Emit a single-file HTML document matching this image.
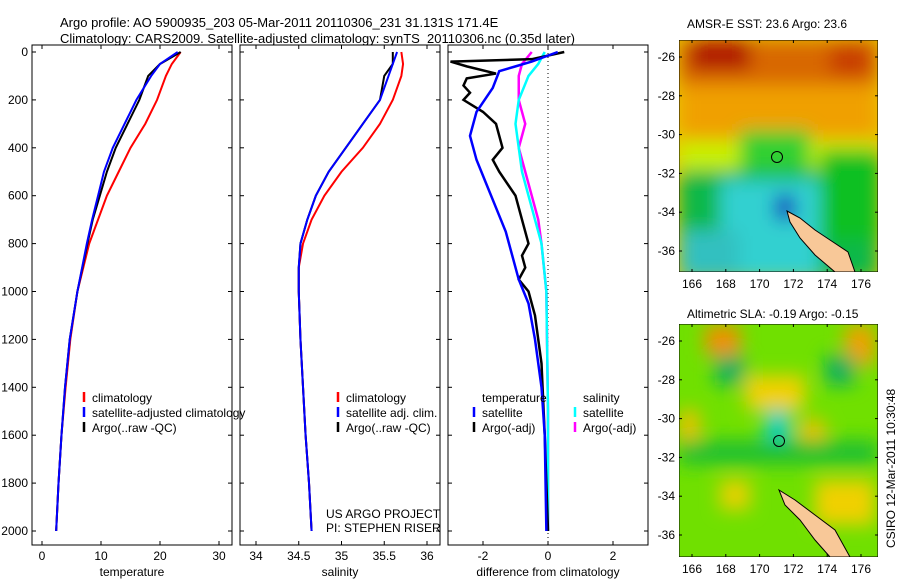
<!DOCTYPE html>
<html><head><meta charset="utf-8"><style>
body{margin:0;background:#fff;font-family:"Liberation Sans",sans-serif;}
svg text{font-family:"Liberation Sans",sans-serif;font-size:12px;fill:#000}
</style></head><body>
<svg id="c" width="900" height="580" xmlns="http://www.w3.org/2000/svg">
<defs>
<filter id="bl" x="-20%" y="-20%" width="140%" height="140%"><feGaussianBlur stdDeviation="9"/></filter>
<clipPath id="cm1"><rect x="679" y="40" width="199" height="232"/></clipPath>
<clipPath id="cm2"><rect x="679" y="324" width="199" height="233"/></clipPath>
</defs>
<text x="60" y="27" font-size="13" style="font-size:13px">Argo profile: AO 5900935_203 05-Mar-2011 20110306_231 31.131S 171.4E</text>
<text x="60" y="43" style="font-size:13px">Climatology: CARS2009. Satellite-adjusted climatology: synTS_20110306.nc (0.35d later)</text>
<g id="plots"></g>
<g clip-path="url(#cm1)">
<rect x="679" y="40" width="199" height="232" fill="#e8c800"/>
<g filter="url(#bl)">
<rect x="679" y="40" width="199" height="45" fill="#d86800"/>
<rect x="690" y="40" width="60" height="30" fill="#b01800"/>
<rect x="830" y="45" width="40" height="30" fill="#c83c00"/>
<rect x="679" y="85" width="199" height="55" fill="#f0a000"/>
<rect x="679" y="140" width="199" height="35" fill="#c8f000"/>
<rect x="740" y="130" width="70" height="60" fill="#30d030"/>
<rect x="679" y="170" width="199" height="110" fill="#10b848"/>
<rect x="720" y="180" width="100" height="100" fill="#30d0d0"/>
<rect x="679" y="230" width="60" height="50" fill="#30c0c0"/>
<rect x="820" y="150" width="60" height="90" fill="#10c020"/>
<rect x="775" y="195" width="20" height="25" fill="#1030c0"/>
</g>
<polygon points="787,211 800,218 815,230 830,240 848,252 855,272 835,272 815,255 800,238 790,222" fill="#f8c898" stroke="#000" stroke-width="1"/>
<circle cx="777" cy="157" r="5.5" fill="none" stroke="#000"/>
<rect x="679" y="40" width="199" height="232" fill="none" stroke="#000"/>
</g>
<g clip-path="url(#cm2)">
<rect x="679" y="324" width="199" height="233" fill="#70e000"/>
<g filter="url(#bl)">
<rect x="705" y="325" width="35" height="30" fill="#f09000"/>
<rect x="845" y="325" width="30" height="40" fill="#f0a000"/>
<rect x="715" y="355" width="30" height="30" fill="#10b060"/>
<rect x="825" y="355" width="30" height="30" fill="#10b060"/>
<rect x="745" y="375" width="60" height="35" fill="#f0d000"/>
<rect x="765" y="410" width="25" height="40" fill="#10d0c0"/>
<rect x="679" y="410" width="20" height="35" fill="#f0c000"/>
<rect x="800" y="420" width="25" height="25" fill="#f0c000"/>
<rect x="720" y="480" width="30" height="30" fill="#e8d000"/>
<rect x="815" y="480" width="60" height="45" fill="#f0d000"/>
<rect x="679" y="440" width="199" height="25" fill="#20c030"/>
</g>
<polygon points="779,490 795,500 815,515 835,530 850,557 830,557 815,540 800,520 785,505" fill="#f8c898" stroke="#000" stroke-width="1"/>
<circle cx="779" cy="441" r="5.5" fill="none" stroke="#000"/>
<rect x="679" y="324" width="199" height="233" fill="none" stroke="#000"/>
</g>
<text x="687" y="28">AMSR-E SST: 23.6 Argo: 23.6</text>
<text x="687" y="318">Altimetric SLA: -0.19 Argo: -0.15</text>
<text transform="translate(895,548) rotate(-90)">CSIRO 12-Mar-2011 10:30:48</text>
<g id="maps"></g>
</svg>
<script>
const NS="http://www.w3.org/2000/svg";
const depthTicks=[0,200,400,600,800,1000,1200,1400,1600,1800,2000];
const tempTicks=[0,10,20,30];
const salTicks=[34,34.5,35,35.5,36];
const salTickLabels=["34","34.5","35","35.5","36"];
const diffTicks=[-2,0,2];
const tDepth=[0,50,100,200,300,400,500,600,700,800,1000,1200,1400,1600,1800,2000];
const tempClim=[23.5,22,21,19.5,17.5,15,13,11,9.5,8,6,4.8,4,3.3,2.8,2.4];
const tempSat=[23,20,18.5,16,14,12,10.5,9.5,8.5,7.6,6,4.7,3.9,3.3,2.8,2.4];
const tempArgo=[23.5,20,18,16.5,14.5,12.5,11,9.8,8.6,7.7,6,4.7,3.9,3.3,2.8,2.4];
const sDepth=[0,50,100,200,300,400,500,600,700,800,900,1000,1200,1400,1600,1800,2000];
const salClim=[35.7,35.72,35.7,35.6,35.45,35.25,35.0,34.8,34.65,34.55,34.5,34.5,34.52,34.55,34.58,34.62,34.65];
const salSat=[35.65,35.6,35.55,35.45,35.25,35.05,34.85,34.7,34.6,34.52,34.5,34.5,34.52,34.55,34.58,34.62,34.65];
const salArgo=[35.6,35.6,35.5,35.45,35.25,35.05,34.85,34.7,34.6,34.52,34.5,34.5,34.52,34.55,34.58,34.62,34.65];
const dtBlackD=[0,30,40,60,90,110,140,170,200,250,300,400,450,500,600,700,800,850,900,950,1000,1100,1300,1600,2000];
const dtBlack=[0.5,-0.5,-3.0,-2.5,-1.6,-2.5,-2.6,-2.4,-2.6,-2.0,-1.6,-1.4,-1.7,-1.5,-1.0,-0.8,-0.6,-0.8,-0.7,-0.9,-0.6,-0.4,-0.2,-0.1,0.0];
const dtBlueD=[0,40,60,80,150,250,350,450,550,650,750,850,950,1050,1200,1400,1600,2000];
const dtBlue=[0.3,-0.5,-1.0,-1.5,-1.7,-2.2,-2.4,-2.2,-1.9,-1.6,-1.3,-1.1,-0.9,-0.6,-0.4,-0.2,-0.1,-0.05];
const dsD=[0,50,100,200,300,400,500,600,700,800,1000,1500,2000];
const dsCyan=[-0.1,-0.3,-0.6,-0.9,-1.0,-0.9,-0.8,-0.6,-0.4,-0.2,-0.05,0,0];
const dsMag=[-0.5,-0.8,-0.9,-0.9,-0.7,-0.9,-0.7,-0.5,-0.3,-0.2,-0.05,0,0];
const lonTicks=[166,168,170,172,174,176];
const latTicks=[-26,-28,-30,-32,-34,-36];

const yD=d=>52+d*0.2395;
function el(t,a,p){const e=document.createElementNS(NS,t);for(const k in a)e.setAttribute(k,a[k]);(p||document.getElementById('plots')).appendChild(e);return e;}
function txt(x,y,s,anchor){const e=el('text',{x:x,y:y,'text-anchor':anchor||'start'});e.textContent=s;return e;}
function panel(x0,name,xf,ticks,labels,xlabel,showY){
 const f=el('rect',{x:x0,y:45,width:200,height:500,fill:'none',stroke:'#000'});
 
 
 ticks.forEach((t,i)=>{const x=xf(t);el('line',{x1:x,x2:x,y1:45,y2:49,stroke:'#000'});el('line',{x1:x,x2:x,y1:541,y2:545,stroke:'#000'});
  const l=txt(x,560,labels[i],'middle');});
 depthTicks.forEach(d=>{const y=yD(d);el('line',{x1:x0,x2:x0+4,y1:y,y2:y,stroke:'#000'});el('line',{x1:x0+196,x2:x0+200,y1:y,y2:y,stroke:'#000'});
  if(showY){const l=txt(28,y+4,String(d),'end');}});
 const xl=txt(x0+100,576,xlabel,'middle');
}
function line(xs,ds,xf,col,w,name){
 const p=el('polyline',{points:xs.map((v,i)=>xf(v)+','+yD(ds[i])).join(' '),fill:'none',stroke:col,'stroke-width':w});
 
 
}
function legend(x,y,items){items.forEach((it,i)=>{el('line',{x1:x,x2:x,y1:y+i*15-10,y2:y+i*15,stroke:it[1],'stroke-width':2.5});
 const t=txt(x+8,y+i*15,it[0]);});}

const xT=v=>42+v*5.9, xS=v=>256+(v-34)*85.5, xDf=v=>548+v*32.5;
panel(32,'temperature',xT,tempTicks,tempTicks.map(String),'temperature',true);
line(tempClim,tDepth,xT,'#f00',2,'temp-climatology');
line(tempArgo,tDepth,xT,'#000',2,'temp-argo');
line(tempSat,tDepth,xT,'#00f',2,'temp-satellite-adjusted');
legend(84,402,[['climatology','#f00'],['satellite-adjusted climatology','#00f'],['Argo(..raw -QC)','#000']]);
panel(240,'salinity',xS,salTicks,salTickLabels,'salinity',false);
line(salClim,sDepth,xS,'#f00',2,'sal-climatology');
line(salArgo,sDepth,xS,'#000',2,'sal-argo');
line(salSat,sDepth,xS,'#00f',2,'sal-satellite-adjusted');
legend(338,402,[['climatology','#f00'],['satellite adj. clim.','#00f'],['Argo(..raw -QC)','#000']]);
let t1=txt(326,518,'US ARGO PROJECT');
let t2=txt(326,532,'PI: STEPHEN RISER');
panel(448,'difference',xDf,diffTicks,diffTicks.map(String),'difference from climatology',false);
el('line',{x1:548,x2:548,y1:45,y2:545,stroke:'#000','stroke-dasharray':'1,3'});
line(dsMag,dsD,xDf,'#f0f',2.5,'sal-diff-argo');
line(dsCyan,dsD,xDf,'#0ff',2.5,'sal-diff-satellite');
line(dtBlack,dtBlackD,xDf,'#000',2.5,'temp-diff-argo');
line(dtBlue,dtBlueD,xDf,'#00f',2.5,'temp-diff-satellite');
let h1=txt(482,402,'temperature');
let h2=txt(583,402,'salinity');
legend(474,417,[['satellite','#00f'],['Argo(-adj)','#000']]);
legend(575,417,[['satellite','#0ff'],['Argo(-adj)','#f0f']]);

const mg=document.getElementById('maps');
[[40,272,57],[324,557,341]].forEach(m=>{
 lonTicks.forEach(l=>{const x=692+(l-166)*16.9;el('line',{x1:x,x2:x,y1:m[1]-3,y2:m[1],stroke:'#000'},mg);el('line',{x1:x,x2:x,y1:m[0],y2:m[0]+3,stroke:'#000'},mg);
  const t=txt(x,m[1]+16,String(l),'middle');mg.appendChild(t);});
 latTicks.forEach(l=>{const y=m[2]+(-26-l)*19.4;el('line',{x1:679,x2:682,y1:y,y2:y,stroke:'#000'},mg);el('line',{x1:875,x2:878,y1:y,y2:y,stroke:'#000'},mg);
  const t=txt(675,y+4,String(l),'end');mg.appendChild(t);});
});
</script>
</body></html>
